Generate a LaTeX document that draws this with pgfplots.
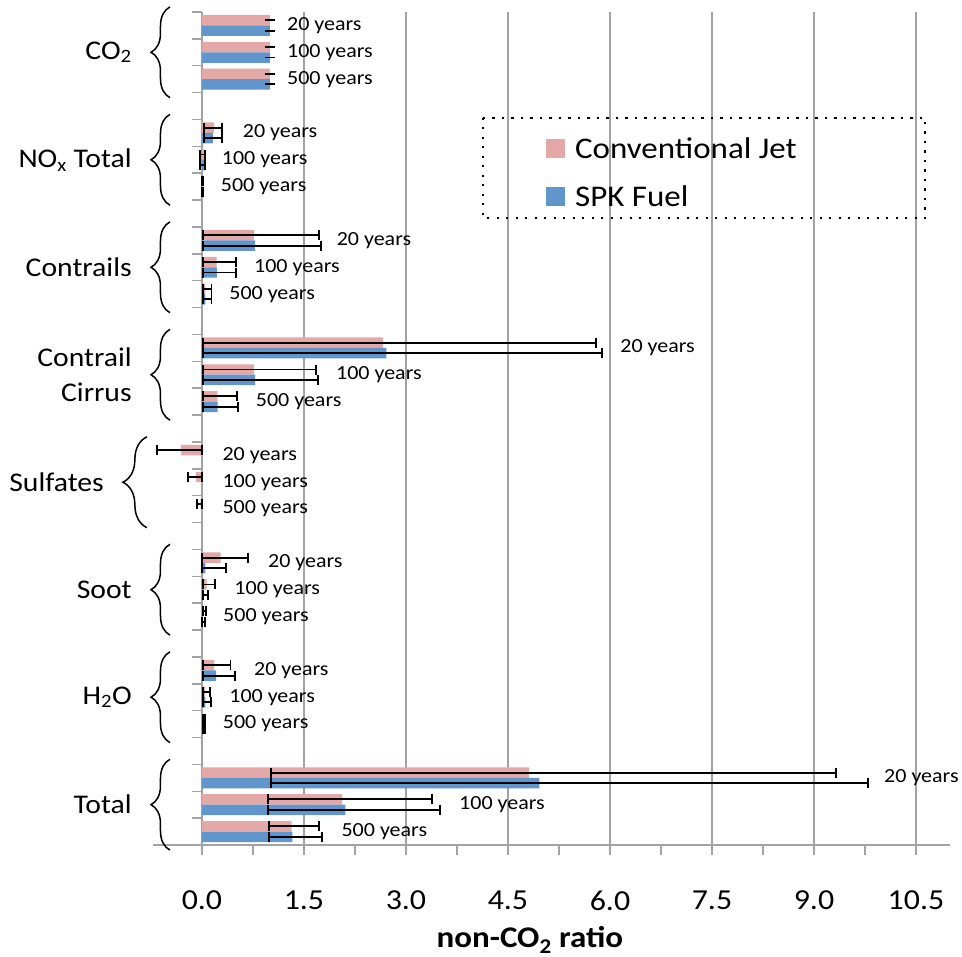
\documentclass[border=0pt]{standalone}
\usepackage{pgfplots}
\pgfplotsset{compat=1.18}
\usepackage{pgfplotstable}
\usepackage{fontspec}
\setmainfont[FakeStretch=1.1]{Carlito}
\usetikzlibrary{decorations.pathreplacing}
\definecolor{pinkc}{HTML}{E4A8A7}
\definecolor{bluec}{HTML}{6096CB}
\definecolor{axisgray}{HTML}{A3A3A3}
\newcommand\ticksize{\fontsize{29}{34}\selectfont}
\newcommand\catsize{\fontsize{27}{35}\selectfont}
\newcommand\yrsize{\fontsize{20}{24}\selectfont}
\newcommand\legsize{\fontsize{30}{34}\selectfont}
\newcommand\titlesize{\fontsize{30}{36}\selectfont}

\pgfplotstableread{
y conv convm convp spk spkm spkp
30 1.00 0 0 1.00 0 0
29 1.00 0 0 1.00 0 0
28 1.00 0 0 1.00 0 0
26 0.18 0.15 0.12 0.16 0.13 0.14
25 0.03 0.06 0.015 0.04 0.07 0.01
24 0.01 0.01 0.01 0.01 0.01 0.01
22 0.765 0.755 0.96 0.78 0.77 0.97
21 0.215 0.205 0.285 0.22 0.21 0.28
20 0.05 0.04 0.09 0.05 0.04 0.09
18 2.66 2.64 3.14 2.71 2.69 3.17
17 0.765 0.755 0.915 0.78 0.77 0.93
16 0.225 0.215 0.285 0.23 0.22 0.295
14 -0.31 0.35 0.31 nan nan nan
13 -0.09 0.11 0.09 nan nan nan
12 -0.02 0.05 0.02 nan nan nan
10 0.275 0.27 0.405 0.05 0.045 0.30
9 0.07 0.06 0.125 0.02 0.01 0.07
8 0.02 0.01 0.04 0.01 0.005 0.03
6 0.18 0.17 0.24 0.21 0.2 0.275
5 0.045 0.035 0.075 0.05 0.04 0.08
4 0.02 0.01 0.03 0.02 0.01 0.03
2 4.81 3.79 4.52 4.96 3.94 4.83
1 2.06 1.09 1.32 2.11 1.14 1.39
0 1.32 0.34 0.40 1.33 0.34 0.43
}\datatable

\begin{document}
\begin{tikzpicture}
\begin{axis}[
  at={(0,0)}, anchor=south west,
  scale only axis, width=797pt, height=833pt,
  xmin=-0.72, xmax=11.0, ymin=-0.5, ymax=30.5,
  axis x line*=bottom, axis y line*=middle,
  axis line style={draw=axisgray, line width=1.5pt},
  xtick={0,1.5,3,4.5,6,7.5,9,10.5}, minor x tick num=1,
  xmajorgrids, major grid style={draw=axisgray, line width=1.5pt},
  ytick={-0.5,0.5,...,30.5}, yticklabels={},
  tick align=outside, major tick length=10pt, minor tick length=10pt,
  every tick/.style={draw=axisgray, line width=1.5pt},
  /pgf/number format/assume math mode=true,
  xticklabel style={font=\ticksize, yshift=-32pt, /pgf/number format/.cd, fixed, fixed zerofill, precision=1},
  xlabel={\textbf{non-CO\textsubscript{2} ratio}},
  x label style={font=\titlesize, at={(axis description cs:0.473,0)}, anchor=center, yshift=-95pt},
  clip=false, xbar, bar width=0.39,
  legend style={draw=none, fill=none, font=\legsize, at={(axis description cs:0.493,0.807)}, anchor=west, inner sep=0pt, row sep=22pt,
    /tikz/every odd column/.append style={column sep=8pt}},
  legend cell align=left,
]
\addplot[fill=pinkc, draw=none, bar shift=0.195,
  legend image code/.code={\fill[pinkc] (0pt,-9.5pt) rectangle (19pt,9.5pt);},
  error bars/.cd, x dir=both, x explicit, error mark=|,
  error bar style={black, line width=1.9pt},
  error mark options={black, line width=1.9pt, mark size=5pt}]
  table[x=conv, y=y, x error plus=convp, x error minus=convm] {\datatable};
\addlegendentry{Conventional Jet}
\addplot[fill=bluec, draw=none, bar shift=-0.195,
  legend image code/.code={\fill[bluec] (0pt,-9.5pt) rectangle (19pt,9.5pt);},
  error bars/.cd, x dir=both, x explicit, error mark=|,
  error bar style={black, line width=1.9pt},
  error mark options={black, line width=1.9pt, mark size=5pt}]
  table[x=spk, y=y, x error plus=spkp, x error minus=spkm] {\datatable};
\addlegendentry{SPK Fuel}

% legend frame
\draw[black, line width=2.2pt, dash pattern=on 2.2pt off 7.3pt] (axis description cs:0.414,0.873) rectangle (axis description cs:0.969,0.7527);

% category labels
\node[font=\catsize, anchor=east, inner sep=0pt] at (axis cs:-1.03,29) {CO\textsubscript{2}};
\node[font=\catsize, anchor=east, inner sep=0pt] at (axis cs:-1.03,25) {NO\textsubscript{x} Total};
\node[font=\catsize, anchor=east, inner sep=0pt] at (axis cs:-1.03,21) {Contrails};
\node[font=\catsize, anchor=east, inner sep=0pt, align=right] at (axis cs:-1.03,17) {Contrail\\Cirrus};
\node[font=\catsize, anchor=east, inner sep=0pt] at (axis cs:-1.44,13) {Sulfates};
\node[font=\catsize, anchor=east, inner sep=0pt] at (axis cs:-1.03,9) {Soot};
\node[font=\catsize, anchor=east, inner sep=0pt] at (axis cs:-1.03,5) {H\textsubscript{2}O};
\node[font=\catsize, anchor=east, inner sep=0pt] at (axis cs:-1.03,1) {Total};

% braces
\draw[decorate, decoration={brace, amplitude=19pt, aspect=0.5}, line width=1.5pt] (axis cs:-0.47,27.31) -- (axis cs:-0.47,30.69);
\draw[decorate, decoration={brace, amplitude=19pt, aspect=0.5}, line width=1.5pt] (axis cs:-0.47,23.31) -- (axis cs:-0.47,26.69);
\draw[decorate, decoration={brace, amplitude=19pt, aspect=0.5}, line width=1.5pt] (axis cs:-0.47,19.31) -- (axis cs:-0.47,22.69);
\draw[decorate, decoration={brace, amplitude=19pt, aspect=0.5}, line width=1.5pt] (axis cs:-0.47,15.31) -- (axis cs:-0.47,18.69);
\draw[decorate, decoration={brace, amplitude=24pt, aspect=0.5}, line width=1.5pt] (axis cs:-0.81,11.31) -- (axis cs:-0.81,14.69);
\draw[decorate, decoration={brace, amplitude=19pt, aspect=0.5}, line width=1.5pt] (axis cs:-0.47,7.31) -- (axis cs:-0.47,10.69);
\draw[decorate, decoration={brace, amplitude=19pt, aspect=0.5}, line width=1.5pt] (axis cs:-0.47,3.31) -- (axis cs:-0.47,6.69);
\draw[decorate, decoration={brace, amplitude=19pt, aspect=0.5}, line width=1.5pt] (axis cs:-0.47,-0.69) -- (axis cs:-0.47,2.69);

% year labels
\node[font=\yrsize, anchor=west, inner sep=0pt] at (axis cs:1.25,30) {20 years};
\node[font=\yrsize, anchor=west, inner sep=0pt] at (axis cs:1.25,29) {100 years};
\node[font=\yrsize, anchor=west, inner sep=0pt] at (axis cs:1.25,28) {500 years};
\node[font=\yrsize, anchor=west, inner sep=0pt] at (axis cs:0.60,26) {20 years};
\node[font=\yrsize, anchor=west, inner sep=0pt] at (axis cs:0.29,25) {100 years};
\node[font=\yrsize, anchor=west, inner sep=0pt] at (axis cs:0.275,24) {500 years};
\node[font=\yrsize, anchor=west, inner sep=0pt] at (axis cs:1.98,22) {20 years};
\node[font=\yrsize, anchor=west, inner sep=0pt] at (axis cs:0.765,21) {100 years};
\node[font=\yrsize, anchor=west, inner sep=0pt] at (axis cs:0.40,20) {500 years};
\node[font=\yrsize, anchor=west, inner sep=0pt] at (axis cs:6.15,18) {20 years};
\node[font=\yrsize, anchor=west, inner sep=0pt] at (axis cs:1.97,17) {100 years};
\node[font=\yrsize, anchor=west, inner sep=0pt] at (axis cs:0.79,16) {500 years};
\node[font=\yrsize, anchor=west, inner sep=0pt] at (axis cs:0.30,14) {20 years};
\node[font=\yrsize, anchor=west, inner sep=0pt] at (axis cs:0.30,13) {100 years};
\node[font=\yrsize, anchor=west, inner sep=0pt] at (axis cs:0.30,12) {500 years};
\node[font=\yrsize, anchor=west, inner sep=0pt] at (axis cs:0.97,10) {20 years};
\node[font=\yrsize, anchor=west, inner sep=0pt] at (axis cs:0.475,9) {100 years};
\node[font=\yrsize, anchor=west, inner sep=0pt] at (axis cs:0.31,8) {500 years};
\node[font=\yrsize, anchor=west, inner sep=0pt] at (axis cs:0.765,6) {20 years};
\node[font=\yrsize, anchor=west, inner sep=0pt] at (axis cs:0.40,5) {100 years};
\node[font=\yrsize, anchor=west, inner sep=0pt] at (axis cs:0.305,4) {500 years};
\node[font=\yrsize, anchor=west, inner sep=0pt] at (axis cs:10.03,2) {20 years};
\node[font=\yrsize, anchor=west, inner sep=0pt] at (axis cs:3.78,1) {100 years};
\node[font=\yrsize, anchor=west, inner sep=0pt] at (axis cs:2.05,0) {500 years};
\end{axis}
\pgfresetboundingbox
\path (-153pt,-112pt) rectangle (809pt,845pt);
\end{tikzpicture}
\end{document}
